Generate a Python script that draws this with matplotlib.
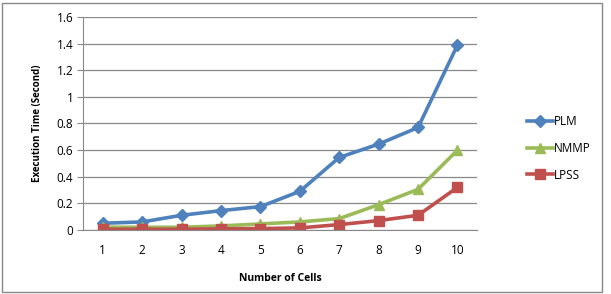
import matplotlib
matplotlib.use("Agg")
import matplotlib.pyplot as plt
from matplotlib.patches import Rectangle

cells = [1, 2, 3, 4, 5, 6, 7, 8, 9, 10]
plm = [0.05, 0.06, 0.11, 0.145, 0.175, 0.29, 0.545, 0.645, 0.77, 1.39]
nmmp = [0.02, 0.02, 0.02, 0.03, 0.045, 0.06, 0.085, 0.19, 0.305, 0.60]
lpss = [0.005, 0.005, 0.005, 0.008, 0.01, 0.015, 0.04, 0.07, 0.11, 0.32]
yticks = [0, 0.2, 0.4, 0.6, 0.8, 1, 1.2, 1.4, 1.6]
ytick_labels = ["0", "0.2", "0.4", "0.6", "0.8", "1", "1.2", "1.4", "1.6"]

plt.rcParams['font.family'] = ['Open Sans', 'DejaVu Sans']

fig = plt.figure(figsize=(6.11, 2.94), dpi=100)
ax = fig.add_axes([0.136, 0.218, 0.645, 0.724])

series = [
    ("PLM", plm, "#4F81BD", "D", 6),
    ("NMMP", nmmp, "#9BBB59", "^", 7.5),
    ("LPSS", lpss, "#C0504D", "s", 7.5),
]
for name, vals, col, mk, ms in series:
    ax.plot(cells, vals, color=col, lw=2.6, marker=mk, markersize=ms, label=name)

ax.set_xlim(0.5, 10.5)
ax.set_ylim(0, 1.6)
ax.set_yticks(yticks)
ax.set_yticklabels(ytick_labels)
ax.set_xticks(cells)
ax.grid(axis="y", color="#888888", lw=0.9)
ax.set_axisbelow(True)
for s in ["top", "right"]:
    ax.spines[s].set_visible(False)
ax.spines["left"].set_color("#888888")
ax.spines["bottom"].set_color("#888888")
ax.tick_params(axis="y", length=4, color="#888888", labelsize=8.5, pad=3)
ax.tick_params(axis="x", length=0, labelsize=8.5, pad=10)

ax.set_xlabel("Number of Cells", fontsize=7.5, fontweight="bold", labelpad=12)
ax.set_ylabel("Execution Time (Second)", fontsize=7, fontweight="bold", labelpad=10)

fig.legend(loc="center left", bbox_to_anchor=(0.845, 0.495), frameon=False,
           fontsize=8.5, handlelength=2.2, handletextpad=0.1, labelspacing=1.15)

fig.patches.append(Rectangle((0.004, 0.008), 0.982, 0.982, transform=fig.transFigure,
                             fill=False, edgecolor="#888888", lw=1))

fig.savefig("out.png", dpi=100)
